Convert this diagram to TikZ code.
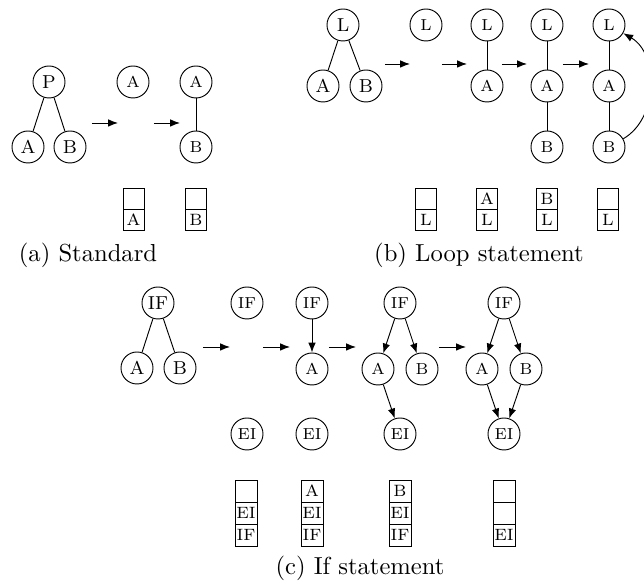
\documentclass[tikz,border=0pt]{standalone}
\usepackage{amsmath}
\usepackage{tikz}
\usetikzlibrary{positioning, arrows.meta}

\begin{document}
\begin{tikzpicture}[x=0.015cm, y=-0.015cm,
	big/.style={circle, draw, minimum size=0.48cm, inner sep=0pt, font=\fontsize{8}{9}\selectfont},
	small/.style={circle, draw, minimum size=0.48cm, inner sep=0pt, font=\fontsize{6.8}{7}\selectfont},
	cell/.style={draw, minimum width=0.315cm, minimum height=0.315cm, inner sep=0pt, outer sep=0pt, font=\fontsize{7}{7}\selectfont},
	tallcell/.style={cell, minimum width=0.33cm, minimum height=0.33cm},
	tip/.style={-{Latex[length=4.2pt, width=3.2pt]}},
	subcap/.style={font=\fontsize{10.5}{12}\selectfont}]
			\useasboundingbox (0, 0) rectangle (644, 586);
			
			% (a)
			\node[big] (aP) at (49, 82) {P};
			\node[big] (aA) at (28, 147) {A};
			\node[big] (aB) at (70, 147) {B};
			\draw (aP) -- (aA);
			\draw (aP) -- (aB);
			
			\coordinate (a1s) at (92, 123);
			\coordinate (a1e) at (118, 123);
			\draw[tip] (a1s) -- (a1e);
			
			\node[small] (a2A) at (133, 82) {A};
			
			\coordinate (a2s) at (154, 123);
			\coordinate (a2e) at (180, 123);
			\draw[tip] (a2s) -- (a2e);
			
			\node[small] (a3A) at (196, 82) {A};
			\node[small] (a3B) at (196, 147) {B};
			\draw (a3A) -- (a3B);
			
			\node[cell] (as1t) at (133.5, 198.5) {};
			\node[cell, below=0pt of as1t] (as1b) {A};
			\node[cell] (as2t) at (196, 198.5) {};
			\node[cell, below=0pt of as2t] (as2b) {B};
			
			\node[subcap] (acap) at (88, 255) {(a) Standard};
			
			% (b)
			\node[big] (bL) at (343, 25) {L};
			\node[big] (bA) at (323, 86) {A};
			\node[big] (bB) at (366, 86) {B};
			\draw (bL) -- (bA);
			\draw (bL) -- (bB);
			
			\coordinate (b1s) at (385, 64);
			\coordinate (b1e) at (410, 64);
			\draw[tip] (b1s) -- (b1e);
			
			\node[small] (b2L) at (426, 25) {L};
			
			\coordinate (b2s) at (442, 64);
			\coordinate (b2e) at (467, 64);
			\draw[tip] (b2s) -- (b2e);
			
			\node[small] (b3L) at (487, 25) {L};
			\node[small] (b3A) at (487, 86) {A};
			\draw (b3L) -- (b3A);
			
			\coordinate (b3s) at (502, 64);
			\coordinate (b3e) at (527, 64);
			\draw[tip] (b3s) -- (b3e);
			
			\node[small] (b4L) at (547, 25) {L};
			\node[small] (b4A) at (547, 86) {A};
			\node[small] (b4B) at (547, 147) {B};
			\draw (b4L) -- (b4A);
			\draw (b4A) -- (b4B);
			
			\coordinate (b4s) at (563, 64);
			\coordinate (b4e) at (589, 64);
			\draw[tip] (b4s) -- (b4e);
			
			\node[small] (b5L) at (609, 25) {L};
			\node[small] (b5A) at (609, 86) {A};
			\node[small] (b5B) at (609, 147) {B};
			\draw (b5L) -- (b5A);
			\draw (b5A) -- (b5B);
			\draw[tip] (b5B) to[out=30, in=-30] (b5L);
			
			\node[cell] (bs1t) at (426, 198.5) {};
			\node[cell, below=0pt of bs1t] (bs1b) {L};
			\node[cell] (bs2t) at (487, 198.5) {A};
			\node[cell, below=0pt of bs2t] (bs2b) {L};
			\node[cell] (bs3t) at (547, 198.5) {B};
			\node[cell, below=0pt of bs3t] (bs3b) {L};
			\node[cell] (bs4t) at (608, 198.5) {};
			\node[cell, below=0pt of bs4t] (bs4b) {L};
			
			\node[subcap] (bcap) at (479, 255) {(b) Loop statement};
			
			% (c)
			\node[big] (cIF) at (158, 303) {IF};
			\node[big] (cA) at (137, 368) {A};
			\node[big] (cB) at (180, 368) {B};
			\draw (cIF) -- (cA);
			\draw (cIF) -- (cB);
			
			\coordinate (c1s) at (203, 347);
			\coordinate (c1e) at (230, 347);
			\draw[tip] (c1s) -- (c1e);
			
			\node[small] (c2IF) at (247, 303) {IF};
			\node[small] (c2EI) at (247, 434) {EI};
			
			\coordinate (c2s) at (263, 347);
			\coordinate (c2e) at (290, 347);
			\draw[tip] (c2s) -- (c2e);
			
			\node[small] (c3IF) at (312, 303) {IF};
			\node[small] (c3A) at (312, 369) {A};
			\node[small] (c3EI) at (312, 434) {EI};
			\draw[tip] (c3IF) -- (c3A);
			
			\coordinate (c3s) at (329, 347);
			\coordinate (c3e) at (356, 347);
			\draw[tip] (c3s) -- (c3e);
			
			\node[small] (c4IF) at (400, 303) {IF};
			\node[small] (c4A) at (378, 369) {A};
			\node[small] (c4B) at (422, 369) {B};
			\node[small] (c4EI) at (400, 434) {EI};
			\draw[tip] (c4IF) -- (c4A);
			\draw[tip] (c4IF) -- (c4B);
			\draw[tip] (c4A) -- (c4EI);
			
			\coordinate (c4s) at (439, 347);
			\coordinate (c4e) at (466, 347);
			\draw[tip] (c4s) -- (c4e);
			
			\node[small] (c5IF) at (504, 303) {IF};
			\node[small] (c5A) at (482, 369) {A};
			\node[small] (c5B) at (526, 369) {B};
			\node[small] (c5EI) at (504, 434) {EI};
			\draw[tip] (c5IF) -- (c5A);
			\draw[tip] (c5IF) -- (c5B);
			\draw[tip] (c5A) -- (c5EI);
			\draw[tip] (c5B) -- (c5EI);
			
			\node[tallcell] (cs1t) at (246, 491) {};
			\node[tallcell, below=0pt of cs1t] (cs1m) {EI};
			\node[tallcell, below=0pt of cs1m] (cs1b) {IF};
			\node[tallcell] (cs2t) at (312, 491) {A};
			\node[tallcell, below=0pt of cs2t] (cs2m) {EI};
			\node[tallcell, below=0pt of cs2m] (cs2b) {IF};
			\node[tallcell] (cs3t) at (400, 491) {B};
			\node[tallcell, below=0pt of cs3t] (cs3m) {EI};
			\node[tallcell, below=0pt of cs3m] (cs3b) {IF};
			\node[tallcell] (cs4t) at (504, 491) {};
			\node[tallcell, below=0pt of cs4t] (cs4m) {};
			\node[tallcell, below=0pt of cs4m] (cs4b) {EI};
			
			\node[subcap] (ccap) at (360, 568) {(c) If statement};
\end{tikzpicture}
\end{document}
